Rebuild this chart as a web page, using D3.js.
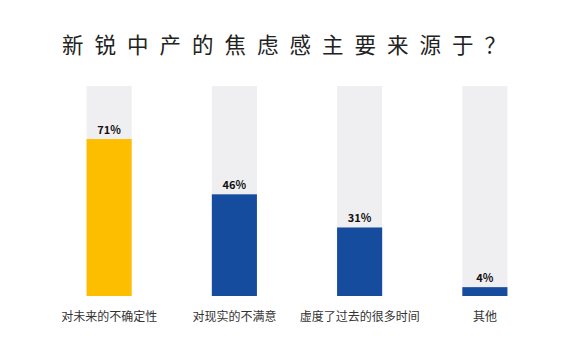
<!DOCTYPE html>
<html><head><meta charset="utf-8">
<script src="https://cdn.jsdelivr.net/npm/d3@7/dist/d3.min.js"></script>
<style>html,body{margin:0;padding:0;background:#fff;}svg{display:block;}</style>
</head><body>
<svg id="chart" width="569" height="364"></svg>
<script>
const title = "新锐中产的焦虑感主要来源于？";
const categories = ["对未来的不确定性", "对现实的不满意", "虚度了过去的很多时间", "其他"];
const values = [71, 46, 31, 4];
const labels = ["71%", "46%", "31%", "4%"];
const colors = ["#FDBE00", "#154C9E", "#154C9E", "#154C9E"];
const scaleMax = 95;

const svg = d3.select("#chart");
const font = "'Noto Sans CJK SC', 'Noto Sans', sans-serif";

const x = d3.scaleBand().domain(categories).range([46.5, 547.5]).paddingInner(0.64).paddingOuter(0.32);
const y = d3.scaleLinear().domain([0, scaleMax]).range([296, 86]);

svg.append("text")
  .attr("x", 62).attr("y", 53)
  .attr("text-anchor", "start")
  .attr("font-family", font).attr("font-size", 21.5)
  .attr("letter-spacing", 11)
  .attr("fill", "#222")
  .text(title);

const g = svg.append("g");
g.selectAll("rect.bg").data(categories).join("rect")
  .attr("class", "bg")
  .attr("x", d => x(d)).attr("width", x.bandwidth())
  .attr("y", y(scaleMax)).attr("height", y(0) - y(scaleMax))
  .attr("fill", "#EFEFF1");

g.selectAll("rect.val").data(values).join("rect")
  .attr("class", "val")
  .attr("x", (d, i) => x(categories[i])).attr("width", x.bandwidth())
  .attr("y", d => y(d)).attr("height", d => y(0) - y(d))
  .attr("fill", (d, i) => colors[i]);

g.selectAll("text.lbl").data(values).join("text")
  .attr("class", "lbl")
  .attr("x", (d, i) => x(categories[i]) + x.bandwidth() / 2)
  .attr("y", d => y(d) - 5)
  .attr("text-anchor", "middle")
  .attr("font-family", font).attr("font-size", 11).attr("font-weight", "bold")
  .attr("fill", "#111")
  .text((d, i) => labels[i]);

const xAxis = d3.axisBottom(x).tickSize(0).tickPadding(0);
const ax = svg.append("g").attr("transform", "translate(0,321)").call(xAxis);
ax.select(".domain").remove();
ax.selectAll("text")
  .attr("dy", 0)
  .attr("font-family", font).attr("font-size", 12)
  .attr("fill", "#333");
</script>
</body></html>
